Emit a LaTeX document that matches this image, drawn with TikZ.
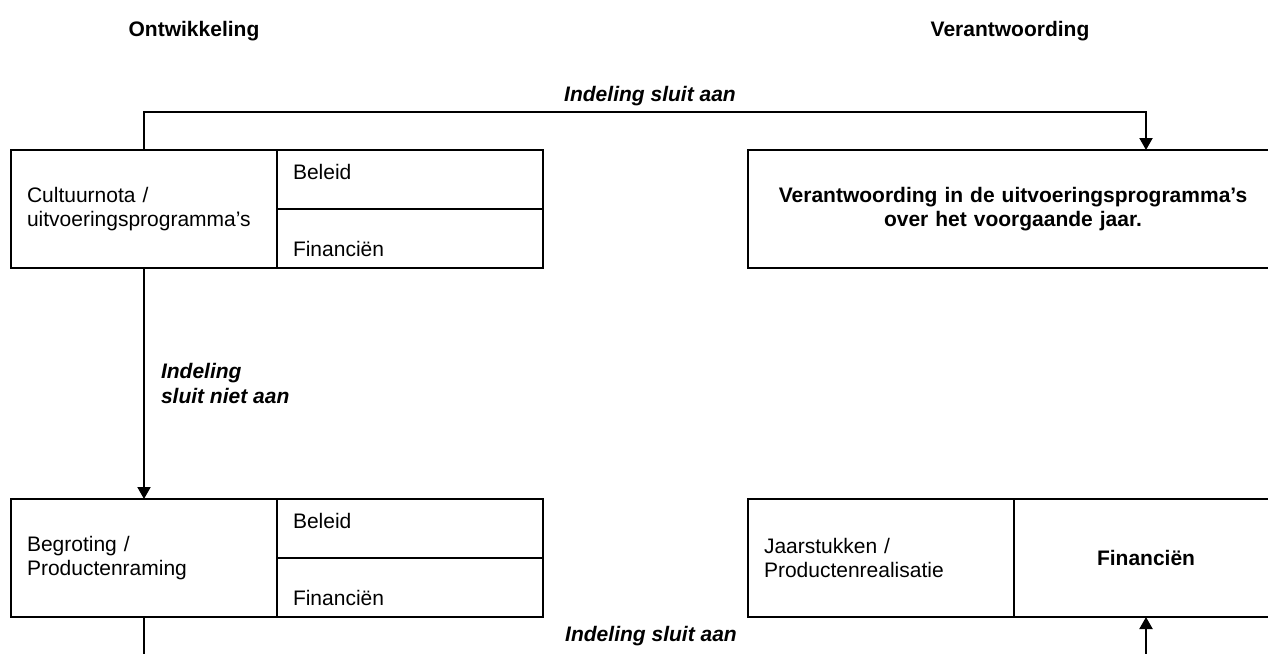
\documentclass[tikz,border=0pt]{standalone}
\usepackage{fontspec}
\setmainfont{Liberation Sans}
\usetikzlibrary{arrows.meta,positioning}

\begin{document}
\fontsize{10.5}{12.2}\selectfont
\begin{tikzpicture}[x=0.5pt, y=-0.5pt,
    cell/.style={draw, rectangle, line width=0.8pt, inner xsep=8pt, inner ysep=0pt, outer sep=0pt, align=left},
    bigcell/.style={cell, text width=117pt, minimum height=59pt},
    halfcell/.style={cell, text width=117pt, minimum height=29.5pt},
    topcell/.style={halfcell, text height=8pt, text depth=8pt},
    lowcell/.style={halfcell, text height=19.5pt, text depth=2pt},
    link/.style={line width=1pt, -{Triangle[length=6pt, width=6.5pt]}},
    flowlabel/.style={font=\bfseries\itshape, inner sep=0pt, align=left}]

    \useasboundingbox (0,0) rectangle (1268,653);
    \clip (0,0) rectangle (1268,653);

    \node[font=\bfseries, anchor=base] (titleDev) at (194,36) {Ontwikkeling};
    \node[font=\bfseries, anchor=base] (titleAcc) at (1010,36) {Verantwoording};

    \node[bigcell, anchor=north west] (cultuur) at (11,150) {Cultuurnota /\\uitvoeringsprogramma's};
    \node[topcell, below right=0pt and 0pt of cultuur.north east] (cultuurBel) {Beleid};
    \node[lowcell, below=0pt of cultuurBel] (cultuurFin) {Financiën};

    \node[cell, text width=249pt, minimum height=59pt, align=center, font=\bfseries, anchor=north west] (verantw) at (748,150) {Verantwoording in de uitvoeringsprogramma's\\over het voorgaande jaar.};

    \node[bigcell, anchor=north west] (begroting) at (11,499) {Begroting /\\Productenraming};
    \node[topcell, below right=0pt and 0pt of begroting.north east] (begrotingBel) {Beleid};
    \node[lowcell, below=0pt of begrotingBel] (begrotingFin) {Financiën};

    \node[bigcell, anchor=north west] (jaar) at (748,499) {Jaarstukken /\\Productenrealisatie};
    \node[cell, text width=116pt, minimum height=59pt, align=center, font=\bfseries, below right=0pt and 0pt of jaar.north east] (jaarFin) {Financiën};

    \coordinate (topRail) at (0,112);
    \coordinate (bottomRail) at (0,668);

    \draw[link] (cultuur.north) |- (topRail -| jaarFin) -- (verantw.north -| jaarFin);
    \draw[link] (cultuur.south) -- node[flowlabel, anchor=west, xshift=8pt] {Indeling\\sluit niet aan} (begroting.north);
    \draw[link] (begroting.south) |- (bottomRail -| jaarFin) -- (jaarFin.south);

    \node[flowlabel, anchor=base] (railTopLabel) at (650,101) {Indeling sluit aan};
    \node[flowlabel, anchor=base] (railBottomLabel) at (651,641) {Indeling sluit aan};
\end{tikzpicture}
\end{document}
